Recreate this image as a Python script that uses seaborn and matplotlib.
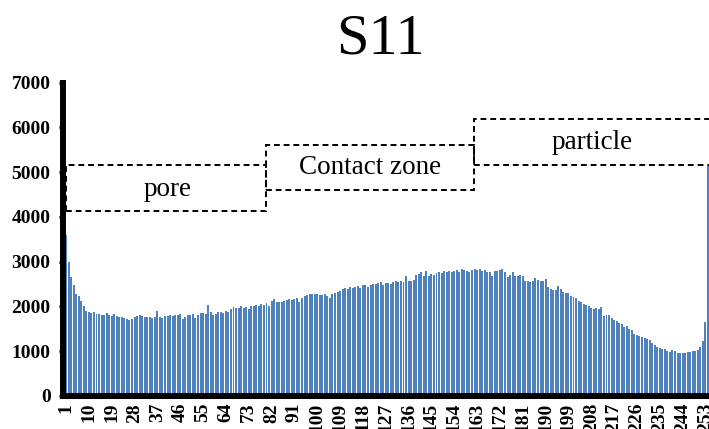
import matplotlib
matplotlib.use("Agg")
import matplotlib.pyplot as plt
from matplotlib.patches import Rectangle
import pandas as pd
import seaborn as sns

# Grey level (1..254) and the number of pixels at each level
gray_levels = list(range(1, 255))
pixel_counts = [
    3600, 2990, 2650, 2470, 2280, 2230, 2130, 2020, 1905, 1880,
    1860, 1880, 1840, 1830, 1820, 1810, 1850, 1800, 1790, 1830,
    1780, 1760, 1770, 1750, 1720, 1700, 1730, 1760, 1790, 1800,
    1780, 1770, 1775, 1760, 1750, 1760, 1890, 1770, 1740, 1790,
    1790, 1800, 1790, 1800, 1810, 1840, 1730, 1760, 1800, 1820,
    1830, 1750, 1800, 1850, 1860, 1840, 2030, 1880, 1820, 1830,
    1870, 1880, 1850, 1900, 1880, 1950, 1990, 1960, 1970, 2000,
    1960, 1980, 1950, 2000, 2010, 2040, 2000, 2060, 2030, 2080,
    2020, 2130, 2170, 2100, 2090, 2110, 2130, 2140, 2160, 2150,
    2170, 2190, 2100, 2200, 2230, 2250, 2280, 2270, 2290, 2280,
    2260, 2250, 2270, 2240, 2200, 2270, 2300, 2330, 2350, 2390,
    2420, 2400, 2430, 2410, 2440, 2460, 2420, 2480, 2470, 2440,
    2490, 2510, 2500, 2530, 2540, 2480, 2520, 2530, 2510, 2540,
    2560, 2550, 2560, 2540, 2680, 2570, 2580, 2600, 2700, 2730,
    2780, 2690, 2800, 2690, 2720, 2700, 2740, 2760, 2750, 2790,
    2780, 2800, 2770, 2790, 2810, 2780, 2840, 2820, 2790, 2760,
    2810, 2840, 2820, 2830, 2800, 2810, 2770, 2780, 2670, 2790,
    2800, 2810, 2840, 2760, 2650, 2700, 2770, 2690, 2680, 2700,
    2690, 2560, 2570, 2550, 2560, 2630, 2590, 2570, 2580, 2610,
    2430, 2380, 2370, 2370, 2460, 2400, 2330, 2310, 2300, 2230,
    2220, 2180, 2130, 2110, 2060, 2040, 2000, 1970, 1940, 1960,
    1950, 1980, 1790, 1800, 1810, 1740, 1690, 1670, 1630, 1610,
    1540, 1570, 1500, 1470, 1390, 1360, 1340, 1320, 1290, 1270,
    1260, 1180, 1140, 1100, 1080, 1050, 1040, 1010, 990, 1020,
    1000, 960, 960, 970, 960, 980, 990, 1000, 1010, 1020,
    1085, 1220, 1650, 5150,
]
tick_labels = [str(v) for v in range(1, 255, 9)]
y_ticks = [0, 1000, 2000, 3000, 4000, 5000, 6000, 7000]
title_text = "S11"
zone_names = ["pore", "Contact zone", "particle"]

sns.set_theme(style="white")
plt.rcParams["font.family"] = ["Liberation Serif", "DejaVu Serif"]

W, H = 709, 429
fig = plt.figure(figsize=(W / 100, H / 100), dpi=100)
ax = fig.add_axes([63 / W, (H - 396) / H, 646 / W, (396 - 82.7) / H])

df = pd.DataFrame({"level": gray_levels, "count": pixel_counts})
sns.barplot(data=df, x="level", y="count", color="#4F81BD", saturation=1,
            width=0.78, linewidth=0, edgecolor="none", ax=ax)

ax.set_xlim(-1.2, 253.4)
ax.set_ylim(0, 7000)
ax.set_xticks(range(0, len(gray_levels), 9))
ax.set_xticklabels(tick_labels, rotation=90, fontweight="bold", fontsize=14)
ax.set_yticks(y_ticks)
ax.set_yticklabels([str(v) for v in y_ticks], fontweight="bold", fontsize=14)
ax.set_xlabel("")
ax.set_ylabel("")

for side in ("top", "right"):
    ax.spines[side].set_visible(False)
for side in ("left", "bottom"):
    ax.spines[side].set_linewidth(4.3)
    ax.spines[side].set_color("black")

ax.tick_params(axis="y", left=True, direction="out", length=3, width=2,
               color="black", pad=6, labelcolor="black")
ax.tick_params(axis="x", bottom=False, length=0, pad=5, labelcolor="black")

fig.text(380 / W, 1 - 40 / H, title_text, ha="center", va="center",
         fontsize=42, color="black")

# Dashed zone boxes: (left, top, right, bottom) in pixels, label centre
boxes = [
    ((66, 165, 266, 211), (168, 190)),
    ((266, 145, 474, 190), (370, 168)),
    ((474, 119, 730, 165), (592, 143)),
]
for (x0, y0, x1, y1), (tx, ty), name in zip(
        [b[0] for b in boxes], [b[1] for b in boxes], zone_names):
    rect = Rectangle((x0 / W, 1 - y1 / H), (x1 - x0) / W, (y1 - y0) / H,
                     transform=fig.transFigure, fill=False, edgecolor="black",
                     linewidth=1.4, linestyle=(0, (3, 2)), clip_on=False)
    fig.add_artist(rect)
    fig.text(tx / W, 1 - ty / H, name, ha="center", va="center",
             fontsize=19.5, color="black")

fig.savefig("out.png", dpi=100)
